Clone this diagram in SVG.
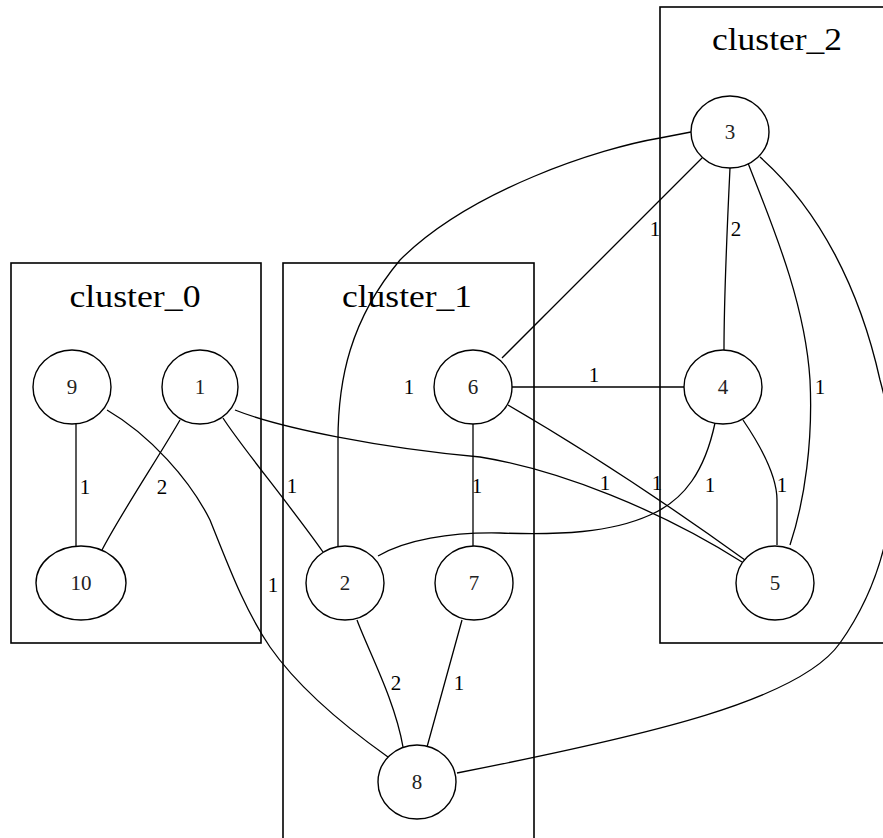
<svg xmlns="http://www.w3.org/2000/svg" width="883" height="838" viewBox="0 0 883 838">
<style>
.cl{fill:none;stroke:#000;stroke-width:1.6}
.ct{font-family:"Liberation Serif","Times New Roman",serif;font-size:32px;fill:#000;text-anchor:middle}
.nd{fill:#fff;stroke:#000;stroke-width:1.4}
.nt{font-family:"Liberation Serif","Times New Roman",serif;font-size:21px;fill:#222;text-anchor:middle}
.e{fill:none;stroke:#000;stroke-width:1.3}
.el{font-family:"Liberation Serif","Times New Roman",serif;font-size:21px;fill:#000;text-anchor:middle}
</style>
<rect width="883" height="838" fill="#fff"/>
<g id="cluster_0">
<rect class="cl" x="11" y="263" width="250" height="380"/>
<text class="ct" x="135" y="307" textLength="131" lengthAdjust="spacingAndGlyphs">cluster_0</text>
</g>
<g id="cluster_1">
<rect class="cl" x="283" y="263" width="251" height="640"/>
<text class="ct" x="407" y="307" textLength="130" lengthAdjust="spacingAndGlyphs">cluster_1</text>
</g>
<g id="cluster_2">
<rect class="cl" x="660" y="7" width="300" height="636"/>
<text class="ct" x="777" y="50" textLength="130" lengthAdjust="spacingAndGlyphs">cluster_2</text>
</g>
<g id="edges">
<path class="e" d="M76,424 L76,547"/>
<path class="e" d="M180,420 C160,455 120,515 102,550"/>
<path class="e" d="M107,410 C150,435 190,480 210,520 C230,570 245,610 270,647 C300,690 350,730 388,757"/>
<path class="e" d="M223,418 C240,445 290,505 323,552"/>
<path class="e" d="M235,410 C280,428 380,448 480,457 C560,470 660,510 742,562"/>
<path class="e" d="M508,405 Q620,470 745,560"/>
<path class="e" d="M512,387 L684,387"/>
<path class="e" d="M473,424 L473,546"/>
<path class="e" d="M702,158 L502,358"/>
<path class="e" d="M691,132 L660,138 C600,148 470,190 400,260 C350,320 338,380 338,440 L338,546"/>
<path class="e" d="M730,168 C727,230 724,300 724,350"/>
<path class="e" d="M748,163 C770,220 805,300 810,380 C813,440 805,500 790,545"/>
<path class="e" d="M760,157 C820,210 860,290 880,380 C905,470 895,565 840,643 C800,700 650,735 457,773"/>
<path class="e" d="M743,420 C760,445 777,475 777,500 L777,545"/>
<path class="e" d="M715,423 C705,470 685,500 650,515 C610,533 560,535 500,533 C450,532 405,540 378,556"/>
<path class="e" d="M357,620 C368,650 395,700 403,747"/>
<path class="e" d="M462,620 C455,645 440,700 427,747"/>
<text class="el" x="85" y="494">1</text>
<text class="el" x="162" y="494">2</text>
<text class="el" x="292" y="493">1</text>
<text class="el" x="273" y="592">1</text>
<text class="el" x="409" y="394">1</text>
<text class="el" x="477" y="493">1</text>
<text class="el" x="594" y="382">1</text>
<text class="el" x="655" y="236">1</text>
<text class="el" x="736" y="236">2</text>
<text class="el" x="820" y="394">1</text>
<text class="el" x="782" y="492">1</text>
<text class="el" x="710" y="492">1</text>
<text class="el" x="657" y="490">1</text>
<text class="el" x="605" y="490">1</text>
<text class="el" x="396" y="690">2</text>
<text class="el" x="459" y="690">1</text>
</g>
<g id="node9"><ellipse class="nd" cx="72" cy="387" rx="39" ry="37"/><text class="nt" x="72" y="394">9</text></g>
<g id="node1"><ellipse class="nd" cx="200" cy="387" rx="38" ry="37"/><text class="nt" x="200" y="394">1</text></g>
<g id="node10"><ellipse class="nd" cx="81" cy="583" rx="45" ry="37"/><text class="nt" x="81" y="590">10</text></g>
<g id="node6"><ellipse class="nd" cx="473" cy="387" rx="39" ry="37"/><text class="nt" x="473" y="394">6</text></g>
<g id="node2"><ellipse class="nd" cx="345" cy="583" rx="39" ry="37"/><text class="nt" x="345" y="590">2</text></g>
<g id="node7"><ellipse class="nd" cx="474" cy="583" rx="39" ry="37"/><text class="nt" x="474" y="590">7</text></g>
<g id="node8"><ellipse class="nd" cx="417" cy="782" rx="39" ry="37"/><text class="nt" x="417" y="789">8</text></g>
<g id="node3"><ellipse class="nd" cx="730" cy="132" rx="39" ry="36"/><text class="nt" x="730" y="139">3</text></g>
<g id="node4"><ellipse class="nd" cx="723" cy="387" rx="39" ry="37"/><text class="nt" x="723" y="394">4</text></g>
<g id="node5"><ellipse class="nd" cx="775" cy="583" rx="39" ry="37"/><text class="nt" x="775" y="590">5</text></g>
</svg>
